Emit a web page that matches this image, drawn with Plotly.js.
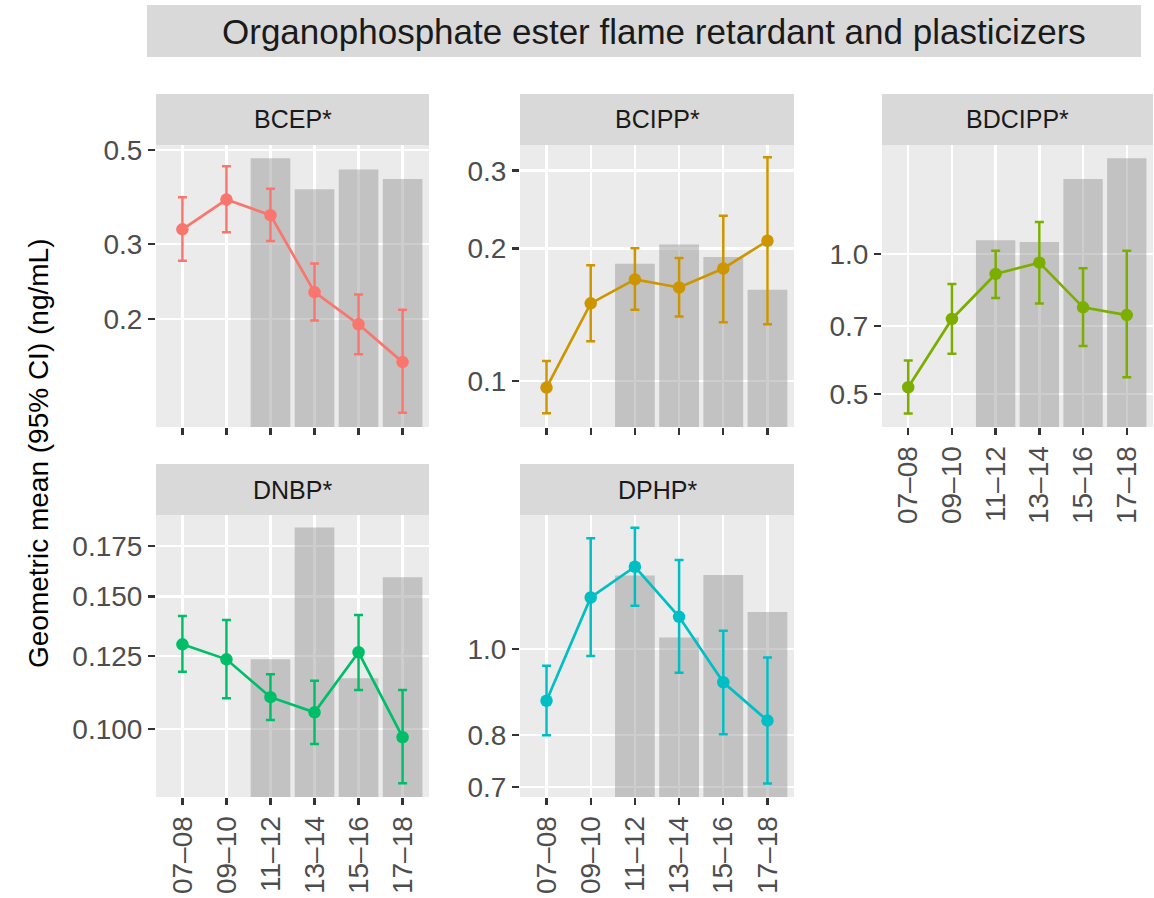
<!DOCTYPE html>
<html>
<head>
<meta charset="utf-8">
<script src="https://cdn.plot.ly/plotly-3.0.1.min.js"></script>
<style>html,body{margin:0;padding:0;background:#fff;}#chart{width:1154px;height:898px;}</style>
</head>
<body>
<div id="chart"></div>
<script>
// ---- data ----
var categories = ["07–08","09–10","11–12","13–14","15–16","17–18"];
var barCategories = ["11–12","13–14","15–16","17–18"];
var compounds = ["BCEP*","BCIPP*","BDCIPP*","DNBP*","DPHP*"];

var bcepMean = [0.325, 0.382, 0.351, 0.231, 0.194, 0.158];
var bcepLow  = [0.274, 0.320, 0.305, 0.198, 0.165, 0.120];
var bcepHigh = [0.387, 0.458, 0.405, 0.270, 0.228, 0.210];
var bcepBar  = [0.478, 0.404, 0.450, 0.427];

var bcippMean = [0.0966, 0.150, 0.170, 0.163, 0.180, 0.208];
var bcippLow  = [0.0845, 0.123, 0.145, 0.140, 0.136, 0.1345];
var bcippHigh = [0.111, 0.183, 0.200, 0.190, 0.237, 0.322];
var bcippBar  = [0.1845, 0.204, 0.191, 0.161];

var bdcippMean = [0.517, 0.725, 0.906, 0.958, 0.768, 0.739];
var bdcippLow  = [0.454, 0.610, 0.804, 0.783, 0.634, 0.543];
var bdcippHigh = [0.590, 0.862, 1.016, 1.172, 0.932, 1.016];
var bdcippBar  = [1.070, 1.061, 1.45, 1.606];

var dnbpMean = [0.1296, 0.1238, 0.1103, 0.1053, 0.1265, 0.0976];
var dnbpLow  = [0.1192, 0.1099, 0.1029, 0.0956, 0.1127, 0.0848];
var dnbpHigh = [0.1413, 0.1396, 0.1183, 0.1160, 0.1418, 0.1127];
var dnbpBar  = [0.1238, 0.1851, 0.1169, 0.1591];

var dphpMean = [0.875, 1.144, 1.239, 1.088, 0.918, 0.831];
var dphpLow  = [0.800, 0.983, 1.120, 0.941, 0.802, 0.706];
var dphpHigh = [0.958, 1.334, 1.371, 1.261, 1.049, 0.979];
var dphpBar  = [1.211, 1.031, 1.213, 1.102];

var bcepTicks = [0.2, 0.3, 0.5];     var bcepTickText = ["0.2","0.3","0.5"];
var bcippTicks = [0.1, 0.2, 0.3];    var bcippTickText = ["0.1","0.2","0.3"];
var bdcippTicks = [0.5, 0.7, 1.0];   var bdcippTickText = ["0.5","0.7","1.0"];
var dnbpTicks = [0.1, 0.125, 0.15, 0.175]; var dnbpTickText = ["0.100","0.125","0.150","0.175"];
var dphpTicks = [0.7, 0.8, 1.0];     var dphpTickText = ["0.7","0.8","1.0"];

var colors = ["#F8766D","#CD9600","#7CAE00","#00BE67","#00BFC4"];

var titleText = "Organophosphate ester flame retardant and plasticizers";
var yTitleText = "Geometric mean (95% CI) (ng/mL)";

// ---- layout helpers ----
var W = 1154, H = 898;
function px(x){ return x / W; }
function py(y){ return 1 - y / H; }

var panels = [
  {name: compounds[0], mean: bcepMean, low: bcepLow, high: bcepHigh, bar: bcepBar, ticks: bcepTicks, tt: bcepTickText,
   yr: [-0.9544, -0.2892], x0: 156, x1: 429, y0: 145, y1: 427, s0: 94, showX: false},
  {name: compounds[1], mean: bcippMean, low: bcippLow, high: bcippHigh, bar: bcippBar, ticks: bcippTicks, tt: bcippTickText,
   yr: [-1.1044, -0.4646], x0: 520, x1: 794, y0: 145, y1: 427, s0: 94, showX: false},
  {name: compounds[2], mean: bdcippMean, low: bdcippLow, high: bdcippHigh, bar: bdcippBar, ticks: bdcippTicks, tt: bdcippTickText,
   yr: [-0.372, 0.2344], x0: 882, x1: 1153, y0: 145, y1: 427, s0: 94, showX: true},
  {name: compounds[3], mean: dnbpMean, low: dnbpLow, high: dnbpHigh, bar: dnbpBar, ticks: dnbpTicks, tt: dnbpTickText,
   yr: [-1.0898, -0.7159], x0: 156, x1: 429, y0: 515, y1: 797, s0: 464, showX: true},
  {name: compounds[4], mean: dphpMean, low: dphpLow, high: dphpHigh, bar: dphpBar, ticks: dphpTicks, tt: dphpTickText,
   yr: [-0.1665, 0.1514], x0: 520, x1: 794, y0: 515, y1: 797, s0: 464, showX: true}
];

var FONT = "Liberation Sans, Arial, Helvetica, sans-serif";
var data = [];
var layout = {
  width: W, height: H,
  margin: {l: 0, r: 0, t: 0, b: 0},
  paper_bgcolor: "#ffffff",
  plot_bgcolor: "#EBEBEB",
  showlegend: false,
  font: {family: FONT},
  shapes: [],
  annotations: []
};

// overall title strip
layout.shapes.push({type: "rect", xref: "paper", yref: "paper",
  x0: px(147), x1: px(1141), y0: py(57), y1: py(5),
  fillcolor: "#D9D9D9", line: {width: 0}, layer: "below"});
layout.annotations.push({xref: "paper", yref: "paper", x: px(654), y: py(31),
  text: titleText, showarrow: false, xanchor: "center", yanchor: "middle",
  font: {size: 35, color: "#1A1A1A", family: FONT}});

// y title
layout.annotations.push({xref: "paper", yref: "paper", x: px(38), y: py(454),
  text: yTitleText, showarrow: false, textangle: -90, xanchor: "center", yanchor: "middle",
  font: {size: 28, color: "#000000", family: FONT}});

panels.forEach(function(p, i){
  var n = i + 1;
  var xa = "x" + (n === 1 ? "" : n), ya = "y" + (n === 1 ? "" : n);
  var xk = "xaxis" + (n === 1 ? "" : n), yk = "yaxis" + (n === 1 ? "" : n);
  var baseVal = Math.pow(10, p.yr[0]);
  data.push({
    type: "bar", x: barCategories, y: p.bar.map(function(v){ return v - baseVal; }),
    base: barCategories.map(function(){ return baseVal; }),
    width: 0.9, xaxis: xa, yaxis: ya,
    marker: {color: "rgba(145,145,145,0.45)", line: {width: 0}},
    hoverinfo: "skip"
  });
  data.push({
    type: "scatter", mode: "lines+markers", x: categories, y: p.mean,
    xaxis: xa, yaxis: ya,
    line: {color: colors[i], width: 2.7},
    marker: {color: colors[i], size: 12.5},
    error_y: {type: "data", symmetric: false,
      array: p.high.map(function(h, k){ return h - p.mean[k]; }),
      arrayminus: p.low.map(function(l, k){ return p.mean[k] - l; }),
      color: colors[i], thickness: 2.5, width: 4.5},
    cliponaxis: false
  });
  layout[xk] = {
    domain: [px(p.x0), px(p.x1)], anchor: ya,
    type: "category", categoryorder: "array", categoryarray: categories,
    range: [-0.6, 5.6],
    showgrid: true, gridcolor: "#FFFFFF", gridwidth: 2.4,
    zeroline: false, showline: false,
    ticks: "outside", ticklen: 7, tickwidth: 2.4, tickcolor: "#333333",
    showticklabels: p.showX, tickangle: -90,
    tickfont: {size: 28, color: "#4D4D4D", family: FONT},
    fixedrange: true
  };
  layout[yk] = {
    domain: [py(p.y1), py(p.y0)], anchor: xa,
    type: "log", range: p.yr,
    tickvals: p.ticks, ticktext: p.tt,
    showgrid: true, gridcolor: "#FFFFFF", gridwidth: 2.4,
    zeroline: false, showline: false,
    ticks: "outside", ticklen: 7, tickwidth: 2.4, tickcolor: "#333333",
    tickfont: {size: 28, color: "#4D4D4D", family: FONT},
    fixedrange: true
  };
  // strip
  layout.shapes.push({type: "rect", xref: "paper", yref: "paper",
    x0: px(p.x0), x1: px(p.x1), y0: py(p.y0), y1: py(p.s0),
    fillcolor: "#D9D9D9", line: {width: 0}});
  layout.annotations.push({xref: "paper", yref: "paper",
    x: px((p.x0 + p.x1) / 2), y: py((p.s0 + p.y0) / 2),
    text: p.name, showarrow: false, xanchor: "center", yanchor: "middle",
    font: {size: 25, color: "#1A1A1A", family: FONT}});
});

Plotly.newPlot("chart", data, layout, {staticPlot: true, displayModeBar: false});
</script>
</body>
</html>
